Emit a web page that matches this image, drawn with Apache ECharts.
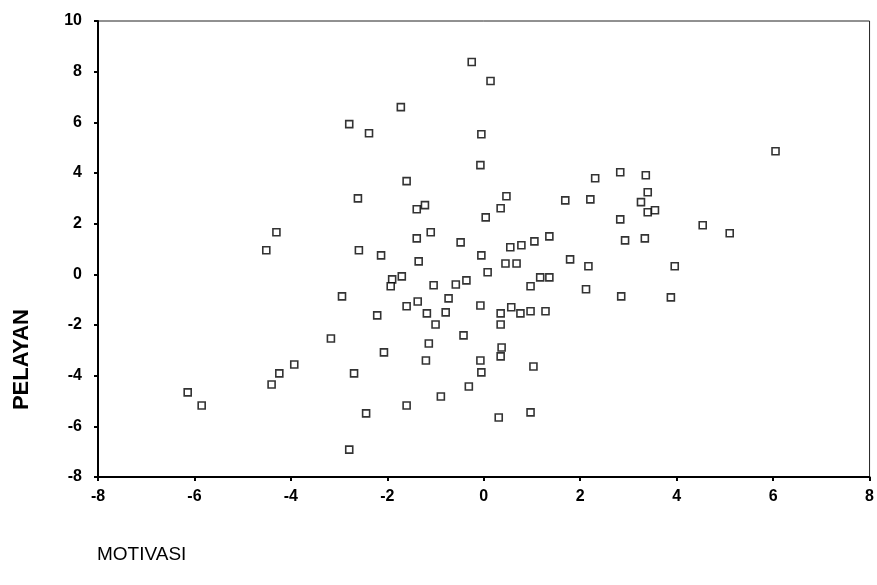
<!DOCTYPE html>
<html>
<head>
    <meta charset="utf-8">
    <title>MOTIVASI vs PELAYAN</title>
    <script src="https://cdn.jsdelivr.net/npm/echarts@6/dist/echarts.min.js"></script>
    <style>
        *{margin:0;padding:0;}
        html,body{width:100%;height:100%;overflow:hidden;background:#fff;}
        #main{width:877px;height:585px;}
    </style>
</head>
<body>
<div id="main"></div>
<script>
    // MOTIVASI (x) and PELAYAN (y)
    let motivasi = [
        -0.25, 0.14, -1.72, -2.79, -2.38, -0.05, -0.07, 6.05, -1.60, -2.61,
        -1.39, -1.22, 0.04, -4.30, -1.39, -1.10, -0.48, 2.31, 2.83, 3.36,
        0.47, 1.69, 2.21, 3.40, 3.26, 3.40, 3.55, 0.35, 2.83, 4.54,
        5.10, 0.55, 0.78, 1.05, 1.36, 2.93, 3.34, -4.51, -2.59, -2.13,
        -1.35, -0.05, 0.45, 0.68, 1.79, 2.17, 3.96, 0.08, -1.70, -1.90,
        -1.93, -1.04, -0.58, -0.36, 0.97, 1.17, 1.36, 2.12, 2.85, 3.88,
        -2.94, -1.60, -1.37, -0.73, -0.07, 0.35, 0.57, 0.76, 0.97, 1.28,
        -2.21, -1.18, -0.79, -1.00, 0.35, -0.42, -3.17, -1.14, 0.37, 0.35,
        -1.20, -0.07, -0.05, 1.03, -2.07, -3.93, -4.24, -4.40, -2.69, -6.14,
        -5.85, -0.31, -0.89, -1.60, -2.44, -2.79, 0.31, 0.97
    ];
    let pelayan = [
        8.38, 7.63, 6.60, 5.93, 5.57, 5.53, 4.31, 4.86, 3.68, 3.00,
        2.57, 2.73, 2.25, 1.66, 1.42, 1.66, 1.26, 3.79, 4.03, 3.91,
        3.08, 2.92, 2.96, 3.24, 2.85, 2.45, 2.53, 2.61, 2.17, 1.94,
        1.62, 1.07, 1.15, 1.30, 1.50, 1.34, 1.42, 0.95, 0.95, 0.75,
        0.51, 0.75, 0.43, 0.43, 0.59, 0.32, 0.32, 0.08, -0.08, -0.20,
        -0.47, -0.43, -0.40, -0.24, -0.47, -0.12, -0.12, -0.59, -0.87, -0.91,
        -0.87, -1.26, -1.07, -0.95, -1.23, -1.54, -1.30, -1.54, -1.46, -1.46,
        -1.62, -1.54, -1.50, -1.98, -1.98, -2.41, -2.53, -2.73, -2.89, -3.24,
        -3.40, -3.40, -3.87, -3.64, -3.08, -3.56, -3.91, -4.35, -3.91, -4.66,
        -5.18, -4.43, -4.82, -5.18, -5.49, -6.92, -5.65, -5.45
    ];
    let xTicks = [-8, -6, -4, -2, 0, 2, 4, 6, 8];
    let yTicks = [-8, -6, -4, -2, 0, 2, 4, 6, 8, 10];

    let points = motivasi.map((x, i) => [x, pelayan[i]]);

    let myCharts = echarts.init(document.getElementById('main'));
    let labelFont = {
        color: '#000',
        fontFamily: 'Liberation Sans',
        fontWeight: 'bold',
        fontSize: 16
    };
    let option = {
        backgroundColor: '#fff',
        animation: false,
        grid: {
            left: 98, right: 4, top: 21, bottom: 108,
            show: true,
            borderColor: '#222',
            borderWidth: 1
        },
        xAxis: {
            type: 'value',
            min: xTicks[0], max: xTicks[xTicks.length - 1], interval: 2,
            splitLine: {show: false},
            axisLine: {onZero: false, lineStyle: {color: '#000', width: 2}},
            axisTick: {show: true, length: 4, lineStyle: {color: '#000', width: 2}},
            axisLabel: Object.assign({margin: 12}, labelFont)
        },
        yAxis: {
            type: 'value',
            min: yTicks[0], max: yTicks[yTicks.length - 1], interval: 2,
            splitLine: {show: false},
            axisLine: {onZero: false, lineStyle: {color: '#000', width: 2}},
            axisTick: {show: true, length: 4, lineStyle: {color: '#000', width: 2}},
            axisLabel: Object.assign({margin: 16}, labelFont)
        },
        graphic: [
            {
                type: 'text', left: 11, top: 309, rotation: Math.PI / 2,
                style: {text: 'PELAYAN', fill: '#000', font: 'bold 22px "Liberation Sans"'}
            },
            {
                type: 'text', left: 97, top: 545,
                style: {text: 'MOTIVASI', fill: '#000', font: '19px "Liberation Sans"'}
            }
        ],
        series: [{
            type: 'scatter',
            data: points,
            symbol: 'rect',
            symbolSize: 7,
            itemStyle: {color: '#fff', borderColor: '#000', borderWidth: 1.6}
        }]
    };
    myCharts.setOption(option);
</script>
</body>
</html>
